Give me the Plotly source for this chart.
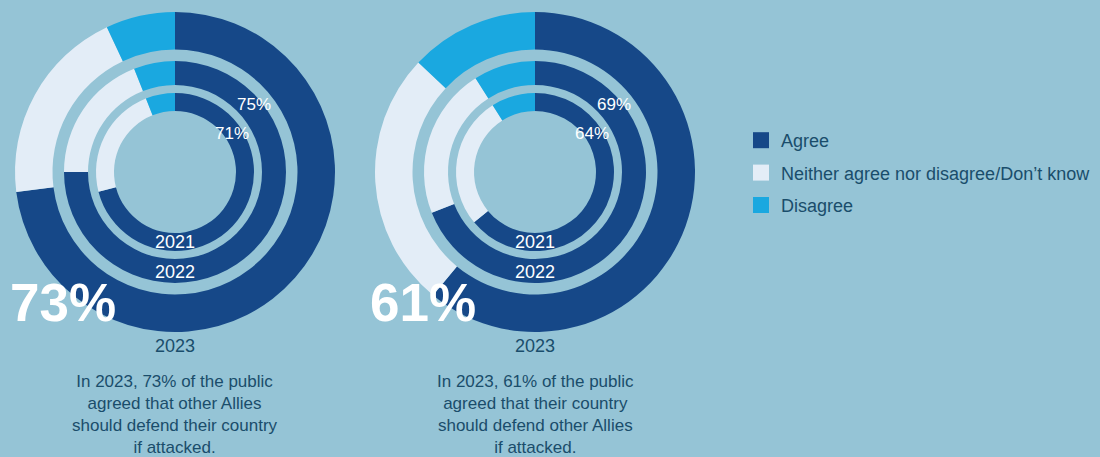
import plotly.graph_objects as go

W, H = 1100, 457

categories = ["Agree", "Neither agree nor disagree/Don’t know", "Disagree"]
colors = ["#164888", "#e3edf7", "#1aa8e0"]
years = ["2021", "2022", "2023"]

# values per chart, per year [Agree, Neither, Disagree]
left_values = {
    "2021": [71, 23, 6],
    "2022": [75, 19, 6],
    "2023": [73, 20, 7],
}
right_values = {
    "2021": [64, 27, 9],
    "2022": [69, 22, 9],
    "2023": [61, 26, 13],
}
left_caption = "In 2023, 73% of the public<br>agreed that other Allies<br>should defend their country<br>if attacked."
right_caption = "In 2023, 61% of the public<br>agreed that their country<br>should defend other Allies<br>if attacked."

BG = "#95c4d6"
TXT = "#1a4d6b"
FONT = "Liberation Sans, Arial, sans-serif"
NARROW = "Liberation Sans Narrow, Arial Narrow, Liberation Sans, Arial, sans-serif"

# ring geometry in px: (outer radius, inner radius)
rings = {"2021": (79, 61), "2022": (111, 87), "2023": (160, 122.5)}

fig = go.Figure()


def add_donut(cx, cy, values):
    for yr in years:
        ro, ri = rings[yr]
        fig.add_trace(go.Pie(
            labels=categories,
            values=values[yr],
            name=yr,
            sort=False,
            direction="clockwise",
            rotation=0,
            hole=ri / ro,
            marker=dict(colors=colors, line=dict(width=0)),
            textinfo="none",
            hoverinfo="label+value",
            showlegend=False,
            domain=dict(x=[(cx - ro) / W, (cx + ro) / W],
                        y=[1 - (cy + ro) / H, 1 - (cy - ro) / H]),
        ))


def px(x, y):
    return x / W, 1 - y / H


def ann(x, y, text, size, color, bold=False, font=FONT, yanchor="middle", **kw):
    xx, yy = px(x, y)
    fig.add_annotation(
        x=xx, y=yy, xref="paper", yref="paper", text=("<b>%s</b>" % text) if bold else text,
        xanchor="center", yanchor=yanchor,
        showarrow=False, font=dict(family=font, size=size, color=color), **kw)


def add_labels(cx, cy, values, caption):
    ann(cx + 79, cy - 67, "%d%%" % values["2022"][0], 17, "white")
    ann(cx + 57, cy - 39, "%d%%" % values["2021"][0], 17, "white")
    ann(cx, cy + 70, "2021", 18, "white")
    ann(cx, cy + 100, "2022", 18, "white")
    ann(cx, cy + 174, "2023", 18, TXT)
    ann(cx - 112, cy + 130, "%d%%" % values["2023"][0], 53, "white", bold=True)
    ann(cx, cy + 198, caption, 17, TXT, font=NARROW, yanchor="top", align="center")


LCX, RCX, CY = 175, 535, 172
add_donut(LCX, CY, left_values)
add_donut(RCX, CY, right_values)
add_labels(LCX, CY, left_values, left_caption)
add_labels(RCX, CY, right_values, right_caption)

# legend entries
for cat, col in zip(categories, colors):
    fig.add_trace(go.Scatter(
        x=[None], y=[None], mode="markers", name=cat, legendgroup=cat,
        marker=dict(symbol="square", size=16, color=col),
        showlegend=True, hoverinfo="skip"))

fig.update_layout(
    width=W, height=H,
    margin=dict(l=0, r=0, t=0, b=0),
    paper_bgcolor=BG, plot_bgcolor=BG,
    xaxis=dict(visible=False), yaxis=dict(visible=False),
    legend=dict(x=741 / W, y=1 - 122 / H, xanchor="left", yanchor="top",
                font=dict(family=FONT, size=18, color=TXT),
                bgcolor="rgba(0,0,0,0)", tracegroupgap=6, itemsizing="trace"),
)

fig.write_html("out.html", config={"displayModeBar": False},
               post_script="document.body.style.margin='0';document.body.style.background='%s';" % BG)
